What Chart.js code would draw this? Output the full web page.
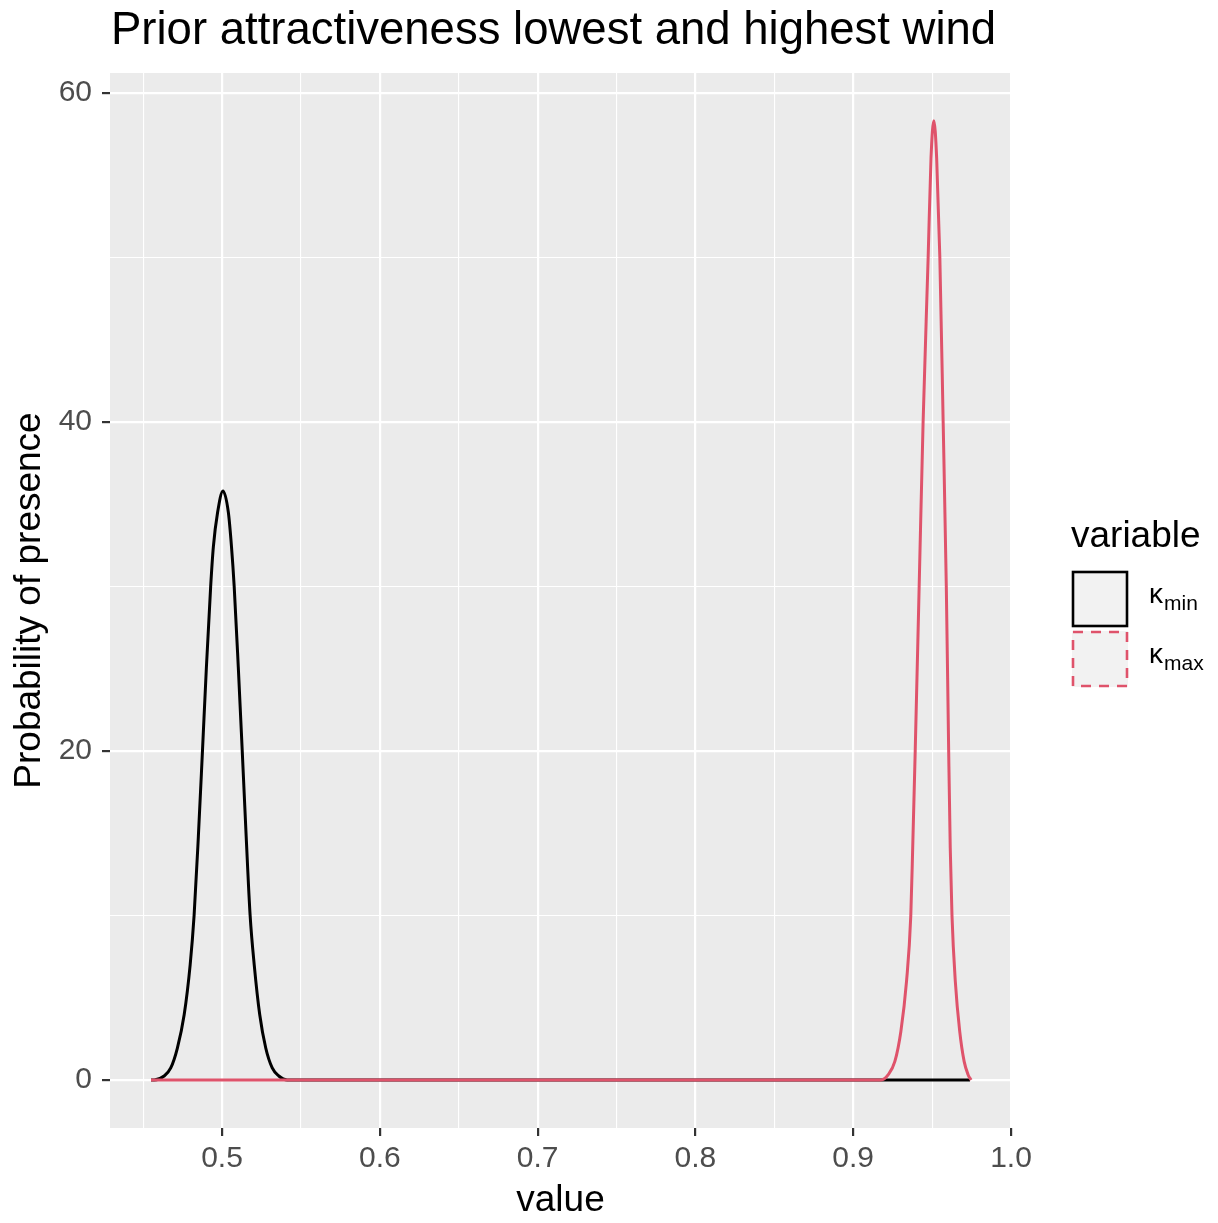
<!DOCTYPE html>
<html lang="en">
<head>
    <meta charset="UTF-8">
    <title>Prior attractiveness lowest and highest wind</title>
    <style>
        html, body { margin: 0; padding: 0; background: #ffffff; }
        #wrap { width: 1218px; height: 1223px; }
    </style>
    <script src="https://cdn.jsdelivr.net/npm/chart.js"></script>
</head>
<body>
    <div id="wrap"><canvas id="densityChart" width="1218" height="1223"></canvas></div>

    <script>
        // Values
        const titleText = 'Prior attractiveness lowest and highest wind';
        const xTitle = 'value';
        const yTitle = 'Probability of presence';
        const legendTitle = 'variable';
        const seriesNames = ['min', 'max'];   // shown as kappa with subscript

        // kappa_min density
        const kMinX = [0.455, 0.457, 0.4633, 0.4675, 0.4717, 0.476, 0.4798, 0.4823, 0.485, 0.4876, 0.4901, 0.4928,
                       0.4945, 0.4972, 0.5006, 0.5040, 0.5060, 0.5077, 0.5103, 0.5128, 0.5153, 0.5178, 0.5204,
                       0.5239, 0.5277, 0.5318, 0.536, 0.5413, 0.550, 0.974];
        const kMinY = [0, 0, 0.24, 0.73, 1.94, 3.96, 7.0, 10, 14.8, 20, 25.1, 30,
                       32.4, 34.5, 35.8, 34.5, 32.4, 30, 25.1, 20, 14.8, 10, 7.0,
                       3.96, 1.94, 0.73, 0.24, 0, 0, 0];

        // kappa_max density
        const kMaxX = [0.455, 0.9177, 0.9222, 0.9264, 0.9302, 0.9338, 0.9365, 0.9377, 0.9393, 0.9418, 0.9443, 0.9475,
                       0.9493, 0.9511, 0.9529, 0.9549, 0.957, 0.959, 0.9605, 0.9615, 0.9626, 0.9647, 0.9675,
                       0.9703, 0.9728, 0.9747];
        const kMaxY = [0, 0, 0.32, 1.13, 2.95, 6.0, 10, 14.1, 20, 30, 40, 50,
                       56, 58.3, 56, 50, 40, 30, 20, 14.1, 10, 6.0, 2.95,
                       1.13, 0.32, 0];

        // axis ticks (major + minor grid positions)
        const xTicks = [0.45, 0.5, 0.55, 0.6, 0.65, 0.7, 0.75, 0.8, 0.85, 0.9, 0.95, 1.0];
        const xMajor = [0.5, 0.6, 0.7, 0.8, 0.9, 1.0];
        const yTicks = [0, 10, 20, 30, 40, 50, 60];
        const yMajor = [0, 20, 40, 60];

        const FONT = "'Liberation Sans', Arial, sans-serif";
        const lineColors = ['#000000', '#DF536B'];

        const isMajor = (list, v) => list.some(m => Math.abs(m - v) < 1e-9);
        const toPoints = (xs, ys) => xs.map((x, i) => ({ x: x, y: ys[i] }));

        // grey panel behind the grid
        const panelBg = {
            id: 'panelBg',
            beforeDraw(chart) {
                const { ctx, chartArea: a } = chart;
                ctx.save();
                ctx.fillStyle = '#ebebeb';
                ctx.fillRect(a.left, a.top, a.right - a.left, a.bottom - a.top);
                ctx.restore();
            }
        };

        // title and legend in ggplot style
        const decorations = {
            id: 'decorations',
            afterDraw(chart) {
                const ctx = chart.ctx;
                ctx.save();
                ctx.fillStyle = '#000000';
                ctx.textBaseline = 'alphabetic';
                ctx.textAlign = 'left';
                ctx.font = '45.5px ' + FONT;
                ctx.fillText(titleText, 111, 44);

                ctx.font = '37px ' + FONT;
                ctx.fillText(legendTitle, 1071, 547);

                seriesNames.forEach((name, i) => {
                    const top = 571 + i * 60;
                    ctx.fillStyle = '#f2f2f2';
                    ctx.fillRect(1072, top, 56, 56);
                    ctx.strokeStyle = lineColors[i];
                    ctx.lineWidth = 2.6;
                    ctx.setLineDash(i === 1 ? [10, 8] : []);
                    ctx.strokeRect(1073, top + 1, 54, 54);
                    ctx.setLineDash([]);

                    ctx.fillStyle = '#000000';
                    ctx.font = '28px ' + FONT;
                    ctx.fillText('\u03BA', 1149, top + 32);
                    const kw = ctx.measureText('\u03BA').width;
                    ctx.font = '21px ' + FONT;
                    ctx.fillText(name, 1149 + kw + 1, top + 39);
                });
                ctx.restore();
            }
        };

        const ctx = document.getElementById('densityChart').getContext('2d');

        new Chart(ctx, {
            type: 'line',
            data: {
                datasets: [
                    {
                        label: 'kappa_min',
                        data: toPoints(kMinX, kMinY),
                        borderColor: lineColors[0],
                        borderWidth: 3,
                        pointRadius: 0,
                        cubicInterpolationMode: 'monotone',
                        fill: false,
                        order: 1
                    },
                    {
                        label: 'kappa_max',
                        data: toPoints(kMaxX, kMaxY),
                        borderColor: lineColors[1],
                        borderWidth: 3,
                        pointRadius: 0,
                        cubicInterpolationMode: 'monotone',
                        fill: false,
                        order: 0
                    }
                ]
            },
            options: {
                responsive: false,
                animation: false,
                layout: { padding: { top: 73, right: 207, left: 0, bottom: 0 } },
                plugins: {
                    legend: { display: false },
                    tooltip: { enabled: false },
                    title: { display: false }
                },
                scales: {
                    x: {
                        type: 'linear',
                        min: 0.429,
                        max: 1.0,
                        afterBuildTicks: s => { s.ticks = xTicks.map(v => ({ value: v })); },
                        afterFit: s => { s.height = 95; },
                        border: { display: false },
                        grid: {
                            color: '#ffffff',
                            lineWidth: c => isMajor(xMajor, c.tick.value) ? 2.2 : 1.1,
                            tickColor: c => isMajor(xMajor, c.tick.value) ? '#333333' : 'rgba(0,0,0,0)',
                            tickWidth: 2.2,
                            tickLength: 8
                        },
                        ticks: {
                            color: '#4d4d4d',
                            font: { family: FONT, size: 30 },
                            padding: 5,
                            maxRotation: 0,
                            autoSkip: false,
                            callback: v => isMajor(xMajor, v) ? v.toFixed(1) : ''
                        },
                        title: {
                            display: true,
                            text: xTitle,
                            color: '#000000',
                            font: { family: FONT, size: 37 },
                            padding: 0
                        }
                    },
                    y: {
                        type: 'linear',
                        min: -2.92,
                        max: 61.2,
                        afterBuildTicks: s => { s.ticks = yTicks.map(v => ({ value: v })); },
                        afterFit: s => { s.width = 110; },
                        border: { display: false },
                        grid: {
                            color: '#ffffff',
                            lineWidth: c => isMajor(yMajor, c.tick.value) ? 2.2 : 1.1,
                            tickColor: c => isMajor(yMajor, c.tick.value) ? '#333333' : 'rgba(0,0,0,0)',
                            tickWidth: 2.2,
                            tickLength: 8
                        },
                        ticks: {
                            color: '#4d4d4d',
                            font: { family: FONT, size: 30 },
                            padding: 10,
                            autoSkip: false,
                            callback: v => isMajor(yMajor, v) ? String(v) : ''
                        },
                        title: {
                            display: true,
                            text: yTitle,
                            color: '#000000',
                            font: { family: FONT, size: 37 },
                            padding: { top: 8, bottom: 0 }
                        }
                    }
                }
            },
            plugins: [panelBg, decorations]
        });
    </script>
</body>
</html>
